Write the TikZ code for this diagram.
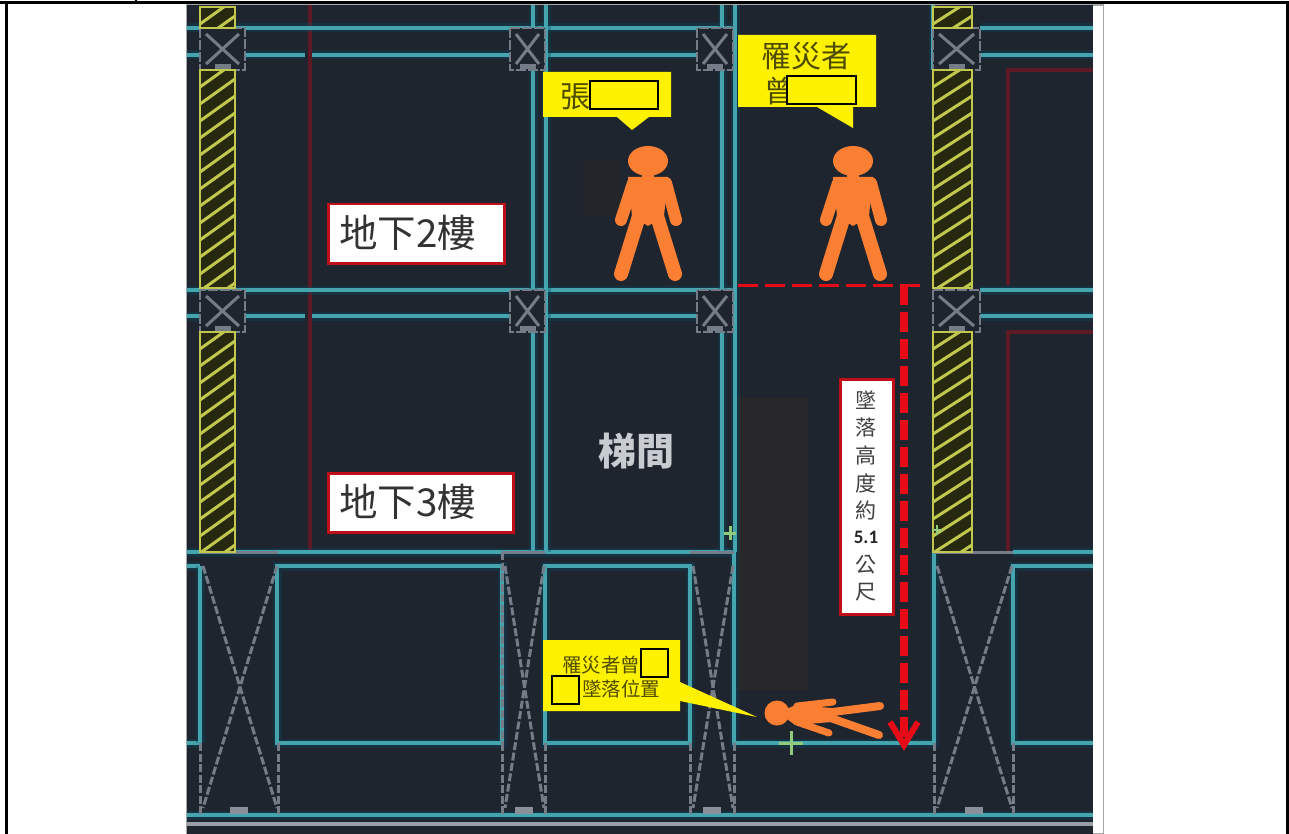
\documentclass[tikz,border=0pt]{standalone}
\usepackage{fontspec}
\newfontfamily\cjk{Noto Sans CJK TC}
\newfontfamily\latinb{Carlito}
\definecolor{bgdark}{HTML}{1F252E}
\definecolor{tealline}{HTML}{45A5AE}
\definecolor{halo}{HTML}{064A60}
\definecolor{greyline}{HTML}{747C87}
\definecolor{redline}{HTML}{5E1A24}
\definecolor{hatchy}{HTML}{C2C84E}
\definecolor{hatchbg}{HTML}{26280F}
\definecolor{orangep}{HTML}{FB7F33}
\definecolor{boxred}{HTML}{C00D1A}
\definecolor{arrowred}{HTML}{E60B16}
\definecolor{calltext}{HTML}{4E4C00}
\definecolor{patchA}{HTML}{28282A}
\definecolor{patchB}{HTML}{23252A}
\definecolor{baseg}{HTML}{8A9099}
\definecolor{bottomg}{HTML}{9A9EA6}
\definecolor{greenm}{HTML}{8FCB7A}
\definecolor{stairt}{HTML}{C8CCD1}
\newcommand{\fs}[1]{\fontsize{#1}{#1}\selectfont}
\newcommand{\hatchcol}[4]{%
  \begin{scope}
    \clip (#1,#2) rectangle (#3,#4);
    \fill[hatchbg] (#1,#2) rectangle (#3,#4);
    \foreach \yy in {0,17,...,340} {
      \draw[hatchy,line width=3pt] (#1,#2+\yy) -- (#3,#2+\yy-25);
    }
  \end{scope}
  \draw[hatchy,line width=2.5pt] (#1,#2) rectangle (#3,#4);
}
\tikzset{
  x=1pt,y=-1pt,
  teal line/.style={draw=tealline,line width=3.6pt,preaction={draw=halo,line width=9pt,opacity=.35}},
  red line/.style={draw=redline,line width=4pt},
  grey dash/.style={draw=greyline,line width=3pt,dash pattern=on 8pt off 2.5pt},
  grey solid/.style={draw=greyline,line width=2.5pt},
  label box/.style={draw=boxred,fill=white,line width=2.5pt,inner sep=0pt,anchor=north west},
  call fill/.style={fill=yellow},
  mask box/.style={draw=black,fill=yellow,line width=1.6pt,inner sep=0pt,anchor=north west},
  call text/.style={text=calltext,inner sep=0pt,font=\cjk},
  columnbox/.pic={
    \draw[grey solid,dash pattern=on 10pt off 2pt] (0,0) rectangle (#1,42);
    \draw[greyline,line width=3pt] (6,6) -- (#1-6,36) (#1-6,6) -- (6,36);
    \fill[greyline] (#1/2-8,36) rectangle (#1/2+8,41);
  },
  columnbox/.default=45,
  personup/.pic={
    \fill[orangep] (0,-117) ellipse (20 and 15);
    \fill[orangep] (-6,-106) rectangle (6,-98);
    \fill[orangep] (-20,-101) -- (20,-101) -- (16,-62) -- (0,-52) -- (-16,-62) -- cycle;
    \draw[orangep,line width=12pt,line cap=round] (-15,-95) -- (-27,-58) (18,-95) -- (28,-58);
    \draw[orangep,line width=14pt,line cap=round] (-9,-62) -- (-27,-4) (9,-62) -- (27,-4);
  },
}
\begin{document}
\begin{tikzpicture}
\useasboundingbox (0,0) rectangle (1289,834);
\fill[white] (0,0) rectangle (1289,834);
% image frame
\draw[draw=gray!70,line width=1.5pt] (187,5) rectangle (1103.5,834);
\begin{scope}
\clip (187,5) rectangle (1093,834);
\fill[bgdark] (187,5) rectangle (1093,834);
% darker patches
\fill[patchA] (738,398) rectangle (808,690);
\fill[patchB] (583,160) rectangle (620,216);
% red walls
\draw[red line] (310,5) -- (310,552);
\draw[red line] (1093,70) -- (1008,70) -- (1008,285);
\draw[red line] (1093,332) -- (1008,332) -- (1008,552);
% teal horizontals
\foreach \yy in {28,290} {
  \draw[teal line] (187,\yy) -- (734,\yy);
  \draw[teal line] (980,\yy) -- (1093,\yy);
}
\foreach \yy in {55,316} {
  \draw[teal line] (187,\yy) -- (305,\yy);
  \draw[teal line] (312,\yy) -- (734,\yy);
  \draw[teal line] (980,\yy) -- (1093,\yy);
}
\draw[teal line] (187,552) -- (734,552);
\draw[teal line] (1013,552) -- (1093,552);
\draw[teal line] (187,566) -- (200,566);
\draw[teal line] (187,743) -- (200,743);
\draw[teal line] (277,566) rectangle (502,743);
\draw[teal line] (545,743) -- (545,566) -- (690,566) -- (690,743) -- cycle;
\draw[teal line] (1093,566) -- (1013,566) -- (1013,743) -- (1093,743);
\draw[teal line] (734,552) -- (734,743) -- (934,743) -- (934,552);
\draw[teal line] (200,566) -- (200,743);
\draw[teal line] (187,815) -- (1093,815);
% teal verticals
\draw[teal line] (533,5) -- (533,552);
\draw[teal line] (546,5) -- (546,552);
\draw[teal line] (722,5) -- (722,552);
\draw[teal line] (735,5) -- (735,552);
\draw[teal line] (933,5) -- (933,70);
% bottom grey line
\draw[draw=bottomg,line width=3.5pt] (187,824) -- (1093,824);
% dashed X bays
\foreach \xa/\xb in {200/278,502/545,690/734,934/1013} {
  \draw[grey dash] (\xa+3,566) -- (\xb-1,808);
  \draw[grey dash] (\xb-1,566) -- (\xa+3,808);
  \draw[grey dash] (\xa,743) -- (\xa,815);
  \draw[grey dash] (\xb,743) -- (\xb,815);
  \draw[greyline,line width=3pt] (\xa,552) -- (\xb,552);
  \fill[baseg] ({(\xa+\xb)/2-9},807) rectangle ({(\xa+\xb)/2+9},814);
}
\draw[grey dash] (502,552) -- (502,743);
% columns
\foreach \xx/\yy/\ww in {200/28/45,510/28/35,697/28/36,933/28/47,200/290/45,510/290/35,697/290/36,933/290/47} {
  \fill[bgdark] (\xx,\yy) rectangle (\xx+\ww,\yy+42);
  \pic at (\xx,\yy) {columnbox=\ww};
}
% hatched walls
\hatchcol{200}{7}{235}{28}
\hatchcol{200}{70}{235}{288}
\hatchcol{200}{332}{235}{552}
\hatchcol{933}{7}{972}{28}
\hatchcol{933}{70}{972}{288}
\hatchcol{933}{332}{972}{552}
% small green marks
\draw[draw=greenm,line width=3pt] (779,743) -- (803,743) (791,731) -- (791,755);
\draw[draw=greenm,line width=3pt] (724,533) -- (736,533) (730,526) -- (730,540);
\draw[draw=greenm,line width=2.5pt] (932,530) -- (942,530) (937,525) -- (937,535);
\end{scope}
% fall height
\coordinate (falltop) at (904,285);
\coordinate (fallend) at (904,738);
\coordinate (dashl) at (738,285);
\coordinate (dashr) at (922,285);
\draw[arrowred,line width=3pt,dash pattern=on 20pt off 7pt] (dashl) -- (dashr);
\draw[arrowred,line width=8pt,dash pattern=on 20pt off 7pt] (falltop) -- (fallend);
\draw[arrowred,line width=6pt,miter limit=4] (890,722) -- (904,745) -- (918,722);
% persons
\pic at (853,278) {personup};
\pic at (648,278) {personup};
% lying person
\fill[orangep] (777,713) circle (12.5);
\fill[orangep] (787,709) -- (795,705) -- (832,708) -- (836,716) -- (832,722) -- (795,725) -- (787,719) -- cycle;
\draw[orangep,line width=8pt,line cap=round] (825,713) -- (880,706) (825,716) -- (879,735);
\draw[orangep,line width=7pt,line cap=round] (797,706) -- (833,702) (797,722) -- (829,733);
% labels
\node[label box,minimum width=176pt,minimum height=59pt] (b2) at (327,203) {};
\node[font=\cjk\fs{38.5},text=black!80,inner sep=0pt,anchor=west] (b2t) at (339,233) {地下2樓};
\node[label box,minimum width=185pt,minimum height=59pt] (b3) at (327,472) {};
\node[font=\cjk\fs{38.5},text=black!80,inner sep=0pt,anchor=west] (b3t) at (339,502) {地下3樓};
\node[font=\cjk\bfseries\fs{38},text=stairt,inner sep=0pt] (stair) at (636,451) {梯間};
% vertical label
\node[label box,minimum width=53pt,minimum height=235pt] (fall) at (839,378) {};
\foreach \nn/\ch/\yy in {a/墜/400,b/落/428,c/高/455,d/度/483,e/約/510,g/公/565,h/尺/592} {
  \node[font=\cjk\fs{21},text=black!75,inner sep=0pt] (fall\nn) at (866,\yy) {\ch};
}
\node[font=\latinb\bfseries\fs{19},text=black!85,inner sep=0pt] (fallf) at (866,537) {5.1};
% callouts
\fill[call fill] (543,72) -- (671,72) -- (671,117) -- (649,117) -- (632,130) -- (617,117) -- (543,117) -- cycle;
\node[call text,font=\cjk\fs{30}] (c1) at (575,97) {張};
\node[mask box,minimum width=68pt,minimum height=28pt] (m1) at (589,80) {};
\fill[call fill] (738,35) -- (876,35) -- (876,107) -- (853,107) -- (853,128) -- (817,107) -- (738,107) -- cycle;
\node[call text,font=\cjk\fs{30}] (c2) at (806,56) {罹災者};
\node[call text,font=\cjk\fs{30}] (c3) at (779,91) {曾};
\node[mask box,minimum width=69pt,minimum height=28pt] (m2) at (786,75) {};
\fill[call fill] (543,640) -- (680,640) -- (680,682) -- (757,717) -- (680,701) -- (680,711) -- (543,711) -- cycle;
\node[call text,font=\cjk\fs{19.5}] (c4) at (601,665) {罹災者曾};
\node[call text,font=\cjk\fs{19.5}] (c5) at (621,689) {墜落位置};
\node[mask box,minimum width=27pt,minimum height=28pt] (m3) at (640,648) {};
\node[mask box,minimum width=27pt,minimum height=28pt] (m4) at (551,675) {};
% table lines
\draw[black,line width=3pt] (0,3) -- (1289,3);
\draw[black,line width=3pt] (6,3) -- (6,834);
\draw[black,line width=3pt] (1287,3) -- (1287,834);
\draw[black,line width=2pt] (136,0) -- (136,3);
\end{tikzpicture}
\end{document}
